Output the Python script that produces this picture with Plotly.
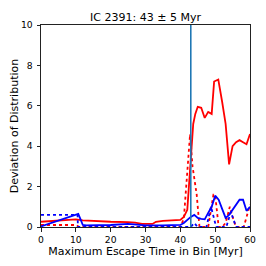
import plotly.graph_objects as go

# Red solid
rs_x = [0, 5, 10, 12, 15, 20, 25, 27, 29, 32, 33, 35, 40, 41, 42, 43, 43.7, 44.3, 45, 46, 47, 48, 49, 49.7, 50.9, 52, 53, 54, 55, 56, 57, 58, 59, 60]
rs_y = [0.26, 0.32, 0.38, 0.33, 0.30, 0.26, 0.24, 0.22, 0.15, 0.15, 0.26, 0.30, 0.35, 0.5, 0.85, 3.5, 5.1, 5.6, 5.95, 5.9, 5.4, 5.7, 5.6, 7.2, 7.3, 6.2, 5.1, 3.1, 4.0, 4.2, 4.3, 4.2, 4.1, 4.6]
# Red dotted
rd_x = [0, 10, 11, 20, 30, 40, 41, 42, 42.8, 43.5, 44.7, 45.5, 47, 48, 49.5, 50, 51, 52, 53, 54.2, 55, 56, 58.2, 60]
rd_y = [0.1, 0.1, 0.0, 0.0, 0.0, 0.0, 0.4, 2.5, 4.6, 3.0, 1.6, 0.0, 0.0, 0.0, 1.6, 1.6, 0.0, 0.0, 0.2, 1.0, 0.5, 0.0, 0.0, 1.1]
# Blue solid
bs_x = [0, 10, 10.7, 11.3, 12, 13, 15, 20, 25, 30, 35, 40, 41, 42, 43, 44, 45, 46, 47, 48, 49, 50, 51, 52, 53, 54, 55, 56, 57, 58, 59, 60]
bs_y = [0.03, 0.6, 0.65, 0.4, 0.1, 0.08, 0.08, 0.1, 0.15, 0.08, 0.08, 0.1, 0.2, 0.35, 0.5, 0.6, 0.45, 0.4, 0.38, 0.7, 1.0, 1.55, 1.35, 0.9, 0.45, 0.6, 0.85, 1.1, 1.35, 1.35, 0.8, 1.0]
# Blue dotted
bd_x = [0, 10.5, 10.6, 20, 30, 43, 44, 45, 47.5, 48.8, 50.3, 53.2, 54.5, 56, 60]
bd_y = [0.6, 0.6, 0.0, 0.0, 0.0, 0.0, 0.2, 0.0, 0.0, 1.0, 0.0, 0.0, 0.75, 0.0, 0.0]

age = 43
title = "IC 2391: 43 ± 5 Myr"

fig = go.Figure()
fig.add_trace(go.Scatter(x=rs_x, y=rs_y, mode="lines", line=dict(color="#ff0000", width=1.8)))
fig.add_trace(go.Scatter(x=rd_x, y=rd_y, mode="lines", line=dict(color="#ff0000", width=1.8, dash="dot")))
fig.add_trace(go.Scatter(x=bs_x, y=bs_y, mode="lines", line=dict(color="#0000ff", width=1.8)))
fig.add_trace(go.Scatter(x=bd_x, y=bd_y, mode="lines", line=dict(color="#0000ff", width=1.8, dash="dot")))
fig.add_vline(x=age, line=dict(color="#1f77b4", width=1.6))

fig.update_layout(
    width=266, height=266,
    margin=dict(l=41, r=16, t=25, b=39, autoexpand=False),
    plot_bgcolor="white", paper_bgcolor="white",
    showlegend=False,
    font=dict(family="DejaVu Sans", size=9.2, color="black"),
    title=dict(text=title, x=(41 + 250) / 2 / 266, xanchor="center", y=1 - 17 / 266, yanchor="middle",
               font=dict(size=11)),
)
fig.update_xaxes(range=[0, 60], tickvals=[0, 10, 20, 30, 40, 50, 60], showline=True, linecolor="#222",
                 linewidth=1, mirror=True, ticks="outside", ticklen=3.5, tickcolor="#222", showgrid=False,
                 zeroline=False, automargin=False,
                 title=dict(text="Maximum Escape Time in Bin [Myr]", standoff=3))
fig.update_yaxes(range=[0, 10], tickvals=[0, 2, 4, 6, 8, 10], showline=True, linecolor="#222",
                 linewidth=1, mirror=True, ticks="outside", ticklen=3.5, tickcolor="#222", showgrid=False,
                 zeroline=False, automargin=False, ticklabelstandoff=2,
                 title=dict(text="Deviation of Distribution", standoff=0))
fig.write_html("out.html", config={"displayModeBar": False},
               post_script="document.body.style.margin='0';document.body.style.overflow='hidden';")
